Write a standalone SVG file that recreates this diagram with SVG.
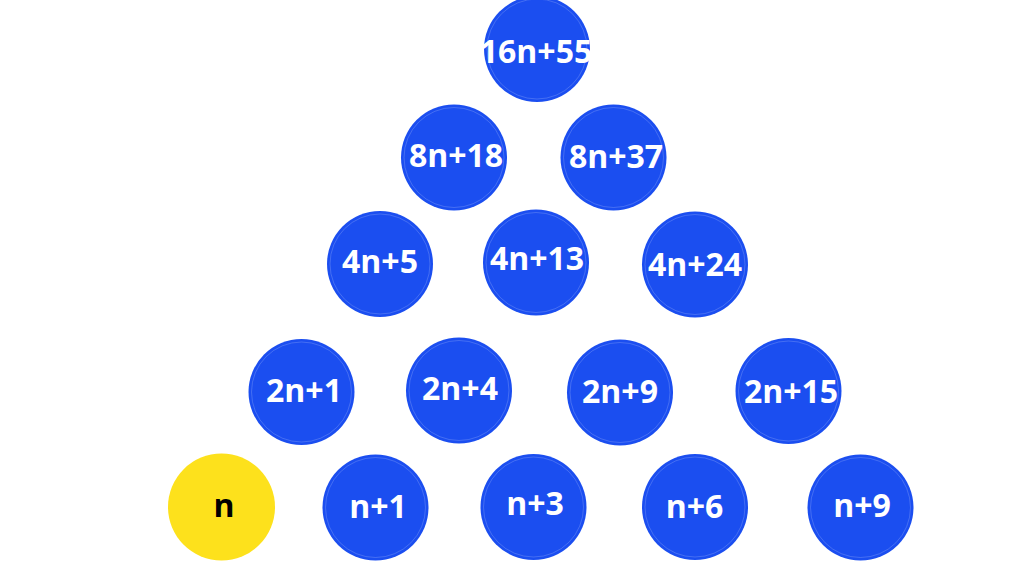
<svg xmlns="http://www.w3.org/2000/svg" width="1024" height="575" viewBox="0 0 1024 575">
<style>
.b{fill:#1b4ef0}
.y{fill:#fde11c}
.ring{fill:none;stroke:#ffffff;stroke-opacity:0.3;stroke-width:0.6}
.t{font-family:"Open Sans","Liberation Sans",sans-serif;font-weight:bold;font-size:32px;text-anchor:middle;fill:#ffffff}
.k{fill:#000000}
</style>
<rect width="1024" height="575" fill="#ffffff"/>
<g id="connectors"></g>
<g id="n16n55"><circle class="b" cx="537" cy="49" r="53"/><circle class="ring" cx="537" cy="49" r="50"/><text class="t" x="536" y="63">16n+55</text></g>
<g id="n8n18"><circle class="b" cx="454" cy="157.5" r="53"/><circle class="ring" cx="454" cy="157.5" r="50"/><text class="t" x="456" y="167">8n+18</text></g>
<g id="n8n37"><circle class="b" cx="613.5" cy="157.5" r="53"/><circle class="ring" cx="613.5" cy="157.5" r="50"/><text class="t" x="616" y="168">8n+37</text></g>
<g id="n4n5"><circle class="b" cx="380" cy="264" r="53"/><circle class="ring" cx="380" cy="264" r="50"/><text class="t" x="380" y="273">4n+5</text></g>
<g id="n4n13"><circle class="b" cx="536" cy="262.5" r="53"/><circle class="ring" cx="536" cy="262.5" r="50"/><text class="t" x="537" y="270">4n+13</text></g>
<g id="n4n24"><circle class="b" cx="695" cy="264.5" r="53"/><circle class="ring" cx="695" cy="264.5" r="50"/><text class="t" x="695" y="276">4n+24</text></g>
<g id="n2n1"><circle class="b" cx="301.5" cy="392" r="53"/><circle class="ring" cx="301.5" cy="392" r="50"/><text class="t" x="304" y="402">2n+1</text></g>
<g id="n2n4"><circle class="b" cx="459" cy="390.5" r="53"/><circle class="ring" cx="459" cy="390.5" r="50"/><text class="t" x="460" y="400">2n+4</text></g>
<g id="n2n9"><circle class="b" cx="620" cy="392.5" r="53"/><circle class="ring" cx="620" cy="392.5" r="50"/><text class="t" x="620" y="403">2n+9</text></g>
<g id="n2n15"><circle class="b" cx="788.5" cy="391" r="53"/><circle class="ring" cx="788.5" cy="391" r="50"/><text class="t" x="791" y="403">2n+15</text></g>
<g id="nn"><circle class="y" cx="221.5" cy="507" r="53.5"/><text class="t k" x="224" y="517">n</text></g>
<g id="nn1"><circle class="b" cx="375.5" cy="507.5" r="53"/><circle class="ring" cx="375.5" cy="507.5" r="50"/><text class="t" x="378" y="518">n+1</text></g>
<g id="nn3"><circle class="b" cx="533.5" cy="507" r="53"/><circle class="ring" cx="533.5" cy="507" r="50"/><text class="t" x="535" y="515">n+3</text></g>
<g id="nn6"><circle class="b" cx="695" cy="507" r="53"/><circle class="ring" cx="695" cy="507" r="50"/><text class="t" x="694.5" y="518">n+6</text></g>
<g id="nn9"><circle class="b" cx="860.5" cy="507.5" r="53"/><circle class="ring" cx="860.5" cy="507.5" r="50"/><text class="t" x="862" y="517">n+9</text></g>
</svg>
